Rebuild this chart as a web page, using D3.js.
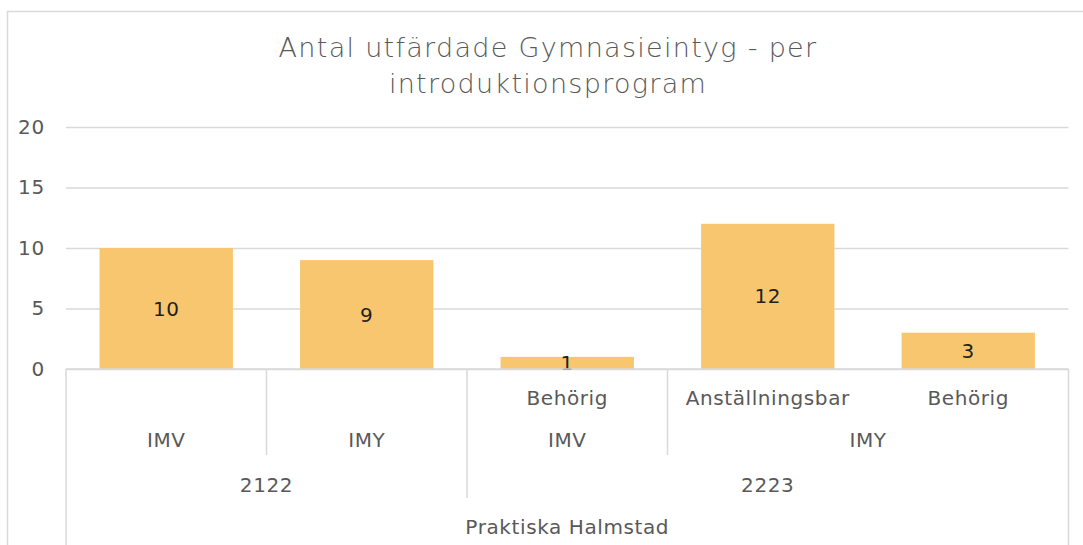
<!DOCTYPE html>
<html>
<head>
<meta charset="utf-8">
<script src="https://cdn.jsdelivr.net/npm/d3@7"></script>
<style>
  body { margin: 0; background: #fff; }
  svg text { font-family: "DejaVu Sans", sans-serif; }
</style>
</head>
<body>
<div id="chartdiv"></div>
<script>
/* --- Data --- */
let school = "Praktiska Halmstad"
let years = ["2122", "2122", "2223", "2223", "2223"]
let programs = ["IMV", "IMY", "IMV", "IMY", "IMY"]
let outcomes = ["", "", "Behörig", "Anställningsbar", "Behörig"]
let values = [10, 9, 1, 12, 3]
let yTicks = [0, 5, 10, 15, 20]
let titleLines = ["Antal utfärdade Gymnasieintyg - per", "introduktionsprogram"]
/* ------------ */

let width = 1083
let height = 545
let leftMargin = 66
let rightEdge = 1068.5
let topMargin = 127
let axisY = 369
let level1Y = 398, level2Y = 440, level3Y = 485, level4Y = 527
let level2Bottom = 455, level3Bottom = 498
let gridColor = "#d9d9d9"
let textColor = "#595959"

function drawChart(){
   let svg = d3.select('#chartdiv')
      .append('svg')
      .attr("width", width)
      .attr("height", height)

   // outer chart border
   svg.append("rect")
      .attr("x", 7.5).attr("y", 11.5)
      .attr("width", 1200).attr("height", 700)
      .attr("fill", "none")
      .attr("stroke", gridColor)
      .attr("stroke-width", 1.5)

   // title
   svg.append("text")
      .attr("text-anchor", "middle")
      .attr("fill", textColor)
      .attr("font-size", 27)
      .attr("letter-spacing", 1.3)
      .attr("font-weight", 300)
      .selectAll("tspan")
      .data(titleLines)
      .join("tspan")
      .attr("x", 548)
      .attr("y", (d, i) => 57 + i * 36)
      .text(d => d)

   let idx = d3.range(values.length)
   let xscale = d3.scaleBand()
      .domain(idx)
      .range([leftMargin, rightEdge])
      .paddingInner(0.335)
      .paddingOuter(0.1675)
   let step = xscale.step()

   let yscale = d3.scaleLinear()
      .domain([0, 20])
      .range([axisY, topMargin])

   // gridlines + y labels
   let y_axis = d3.axisLeft(yscale)
      .tickValues(yTicks)
      .tickSize(-(rightEdge - leftMargin))
      .tickPadding(21)
   let gy = svg.append("g")
      .attr("transform", `translate(${leftMargin}, 0)`)
      .call(y_axis)
   gy.select(".domain").remove()
   gy.selectAll(".tick line").attr("stroke", gridColor).attr("stroke-width", 1.5)
   gy.selectAll(".tick text")
      .attr("fill", textColor)
      .attr("font-size", 20)
      .attr("letter-spacing", 0.8)
      .attr("font-family", "DejaVu Sans, sans-serif")

   // bars
   svg.append("g").selectAll("rect")
      .data(idx)
      .join("rect")
      .attr("x", i => xscale(i))
      .attr("y", i => yscale(values[i]))
      .attr("width", xscale.bandwidth())
      .attr("height", i => axisY - yscale(values[i]))
      .attr("fill", "#f8c66f")

   // data labels
   svg.append("g").selectAll("text")
      .data(idx)
      .join("text")
      .attr("x", i => xscale(i) + xscale.bandwidth() / 2)
      .attr("y", i => (yscale(values[i]) + axisY) / 2)
      .attr("text-anchor", "middle")
      .attr("dominant-baseline", "central")
      .attr("font-size", 20)
      .attr("letter-spacing", 0.6)
      .attr("fill", "#1f1f1f")
      .text(i => values[i])

   // multi-level category axis
   let ax = svg.append("g")
      .attr("stroke", gridColor)
      .attr("stroke-width", 1.5)
   ax.append("line")
      .attr("x1", leftMargin).attr("x2", rightEdge)
      .attr("y1", axisY).attr("y2", axisY)
   ax.append("line")
      .attr("x1", leftMargin).attr("x2", leftMargin)
      .attr("y1", axisY).attr("y2", height)
   ax.append("line")
      .attr("x1", rightEdge).attr("x2", rightEdge)
      .attr("y1", axisY).attr("y2", height)

   // group runs of consecutive equal keys
   function runs(keyFn){
      let out = []
      idx.forEach(i => {
         let k = keyFn(i)
         if (out.length && out[out.length - 1].key === k) out[out.length - 1].end = i
         else out.push({key: k, start: i, end: i})
      })
      return out
   }
   let yearRuns = runs(i => years[i])
   let progRuns = runs(i => years[i] + "|" + programs[i])

   let boundaryX = r => xscale(r.start) - (step - xscale.bandwidth()) / 2
   let centerX = r => boundaryX(r) + step * (r.end - r.start + 1) / 2

   progRuns.slice(1).forEach(r => {
      if (yearRuns.some(y => y.start === r.start)) return
      ax.append("line")
         .attr("x1", boundaryX(r)).attr("x2", boundaryX(r))
         .attr("y1", axisY).attr("y2", level2Bottom)
   })
   yearRuns.slice(1).forEach(r => {
      ax.append("line")
         .attr("x1", boundaryX(r)).attr("x2", boundaryX(r))
         .attr("y1", axisY).attr("y2", level3Bottom)
   })

   let labels = svg.append("g")
      .attr("fill", textColor)
      .attr("font-size", 20)
      .attr("letter-spacing", 0.6)
      .attr("text-anchor", "middle")
      .attr("dominant-baseline", "central")

   labels.selectAll(".l1")
      .data(idx.filter(i => outcomes[i] !== ""))
      .join("text")
      .attr("class", "l1")
      .attr("x", i => xscale(i) + xscale.bandwidth() / 2)
      .attr("y", level1Y)
      .text(i => outcomes[i])

   labels.selectAll(".l2")
      .data(progRuns)
      .join("text")
      .attr("class", "l2")
      .attr("x", centerX)
      .attr("y", level2Y)
      .text(r => programs[r.start])

   labels.selectAll(".l3")
      .data(yearRuns)
      .join("text")
      .attr("class", "l3")
      .attr("x", centerX)
      .attr("y", level3Y)
      .text(r => r.key)

   labels.append("text")
      .attr("x", (leftMargin + rightEdge) / 2)
      .attr("y", level4Y)
      .text(school)
}
drawChart()
</script>
</body>
</html>
